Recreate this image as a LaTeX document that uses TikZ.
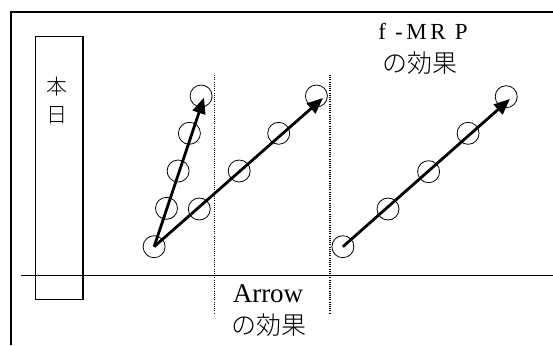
\documentclass[tikz,border=0pt]{standalone}
\usepackage{fontspec}
\setmainfont{Liberation Serif}
\newfontfamily\cjk[UprightFont={* Light}]{Noto Sans CJK JP}
\usetikzlibrary{arrows.meta}
\begin{document}
\begin{tikzpicture}[x=1pt,y=-1pt,
  dot/.style={circle, draw, minimum size=22pt, inner sep=0pt, line width=0.8pt},
  arr/.style={line width=2.8pt, -{Triangle[length=16pt,width=13pt]}},
  divider/.style={line width=1.1pt, dash pattern=on 1pt off 1.2pt},
  cjklab/.style={font=\cjk\fontsize{25}{25}\selectfont, anchor=base, inner sep=0pt},
  latlab/.style={font=\fontsize{27}{27}\selectfont, anchor=base, inner sep=0pt}]
\useasboundingbox (0,0) rectangle (553,345);
% frame
\draw[line width=1.8pt] (11,345) -- (11,12) -- (553,12);
% axis
\draw[line width=1.8pt] (21,275.5) -- (553,275.5);
% today box
\node[draw, line width=1.2pt, minimum width=47.6pt, minimum height=263pt, inner sep=0pt] (box) at (59.1,168.3) {};
\node[font=\cjk\fontsize{21}{21}\selectfont, anchor=base, inner sep=0pt] (hon) at (57,94) {本};
\node[font=\cjk\fontsize{21}{21}\selectfont, anchor=base, inner sep=0pt] (nichi) at (57,122) {日};
% dividers
\draw[divider] (214.5,75) -- (214.5,313);
\draw[divider] (330,75) -- (330,313);
% circles left group
\node[dot] (s1) at (154.1,246.7) {};
\node[dot] (a1) at (166.5,208.3) {};
\node[dot] (a2) at (178.1,171) {};
\node[dot] (a3) at (189.4,133.3) {};
\node[dot] (a4) at (201.1,96) {};
\node[dot] (b1) at (199.3,209) {};
\node[dot] (b2) at (239.2,171) {};
\node[dot] (b3) at (278.7,133.3) {};
\node[dot] (b4) at (316.4,96) {};
% right group
\node[dot] (s2) at (342.9,246.7) {};
\node[dot] (c1) at (388,209) {};
\node[dot] (c2) at (428.6,171.7) {};
\node[dot] (c3) at (468.1,133.3) {};
\node[dot] (c4) at (506.2,96.7) {};
% arrow tips
\coordinate (ta) at (204,97.5);
\coordinate (tb) at (323,98);
\coordinate (tc) at (510,99);
\draw[arr] (s1.center) -- (ta);
\draw[arr] (s1.center) -- (tb);
\draw[arr] (s2.center) -- (tc);
% labels
\node[font=\fontsize{23}{23}\selectfont\addfontfeatures{LetterSpace=15}, anchor=base, inner sep=0pt] (fmrp) at (423,40) {f -MR P};
\node[cjklab] (eff1) at (420,72) {の効果};
\node[latlab] (arrowlab) at (268,302) {Arrow};
\node[cjklab] (eff2) at (269,334) {の効果};
\end{tikzpicture}
\end{document}
